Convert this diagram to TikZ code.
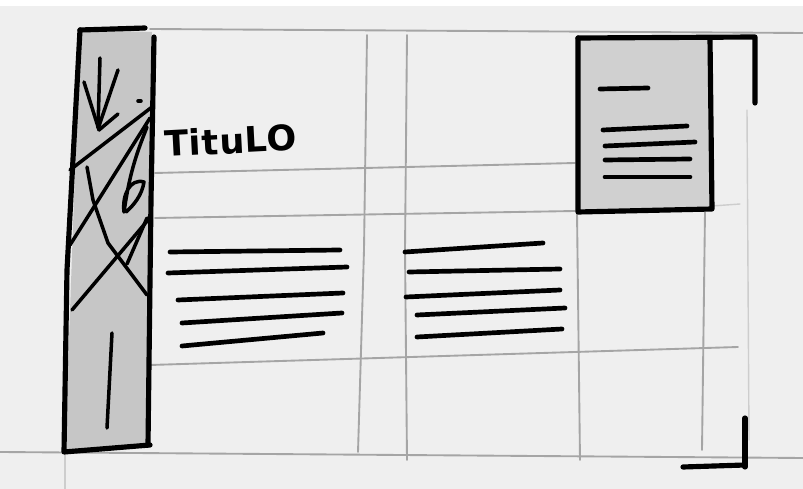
\documentclass[tikz,border=0pt]{standalone}
\usepackage{fontspec}
\setmainfont{DejaVu Sans}
\definecolor{paper}{RGB}{239,239,239}
\definecolor{pencil}{RGB}{165,165,165}
\definecolor{pencilfaint}{RGB}{205,205,205}
\definecolor{bargray}{RGB}{198,198,198}
\definecolor{boxgray}{RGB}{208,208,208}
\begin{document}
\begin{tikzpicture}[x=0.03cm,y=-0.03cm,
  grid/.style={draw=pencil, line width=1.6pt, line cap=round},
  faint/.style={draw=pencilfaint, line width=1.2pt, line cap=round},
  ink/.style={draw=black, line width=4.4pt, line cap=round, line join=round},
  pen/.style={draw=black, line width=4pt, line cap=round, line join=round},
  inkthin/.style={draw=black, line width=3pt, line cap=round, line join=round},
  shade/.style={fill=bargray},
  shadelight/.style={fill=boxgray}]
% paper
\fill[paper] (0,0) rectangle (803,489);
\fill[white] (0,0) rectangle (803,6);
\useasboundingbox (0,0) rectangle (803,489);

% pencil grid
\draw[grid] (150,29) -- (803,33);
\draw[grid] (367,35) -- (364,250) -- (358,452);
\draw[grid] (407,35) -- (405,250) -- (407,460);
\draw[grid] (155,173) -- (575,163);
\draw[grid] (155,218) -- (575,211);
\draw[grid] (150,365) -- (738,347);
\draw[grid] (0,452) -- (803,458);
\draw[grid] (577,212) -- (580,460);
\draw[grid] (705,212) -- (702,450);
\draw[faint] (712,206) -- (740,204);
\draw[faint] (747,110) -- (749,440);
\draw[faint] (65,452) -- (65,489);

% left bar
\fill[shade] (80,30) -- (152,32) -- (148,446) -- (65,452) -- cycle;
\draw[ink] (80,30) -- (145,28);
\draw[ink] (80,30) -- (67,270) -- (64,452) -- (150,445);
\draw[ink] (154,37) -- (151,200) -- (148,445);
% drawing inside the bar
\draw[inkthin] (70,170) -- (152,107);
\draw[inkthin] (70,245) -- (150,118);
\draw[inkthin] (87,167) -- (93,200) -- (108,243) -- (147,295);
\draw[inkthin] (148,220) -- (72,310);
\draw[inkthin] (147,218) -- (127,264);
\draw[inkthin] (84,82) -- (99,130);
\draw[inkthin] (100,58) -- (98,128);
\draw[inkthin] (118,70) -- (99,126);
\draw[inkthin] (99,130) -- (118,114);
\draw[inkthin] (138,101) -- (141,101);
\draw[inkthin] (147,127) .. controls (138,150) and (130,170) .. (124,212)
  .. controls (122,195) and (130,178) .. (144,182) .. controls (142,195) and (134,205) .. (126,212);

\draw[inkthin] (112,333) -- (107,428);

% title
\node[anchor=base west, inner sep=0, rotate=3] (titulo) at (165,157)
  {\fontsize{30}{30}\selectfont\bfseries\addfontfeatures{LetterSpace=2}TituLO};

% text lines, first column
\draw[pen] (170,252) -- (340,250);
\draw[pen] (168,273) -- (347,267);
\draw[pen] (178,300) -- (343,293);
\draw[pen] (182,323) -- (342,313);
\draw[pen] (182,346) -- (323,333);
% text lines, second column
\draw[pen] (405,252) -- (543,243);
\draw[pen] (409,272) -- (560,269);
\draw[pen] (406,297) -- (560,290);
\draw[pen] (417,315) -- (565,308);
\draw[pen] (417,337) -- (562,329);

% right box
\fill[shadelight] (578,38) rectangle (711,211);
\draw[ink] (578,38) -- (578,212) -- (712,209) -- (710,38);
\draw[ink] (578,38) -- (755,37) -- (755,103);
\draw[pen] (600,89) -- (648,88);
\draw[pen] (603,130) -- (687,126);
\draw[pen] (605,146) -- (695,142);
\draw[pen] (605,160) -- (690,159);
\draw[pen] (605,177) -- (690,177);

% corner mark
\draw[ink] (745,418) -- (745,467);
\draw[ink] (683,467) -- (745,465);
\end{tikzpicture}
\end{document}
